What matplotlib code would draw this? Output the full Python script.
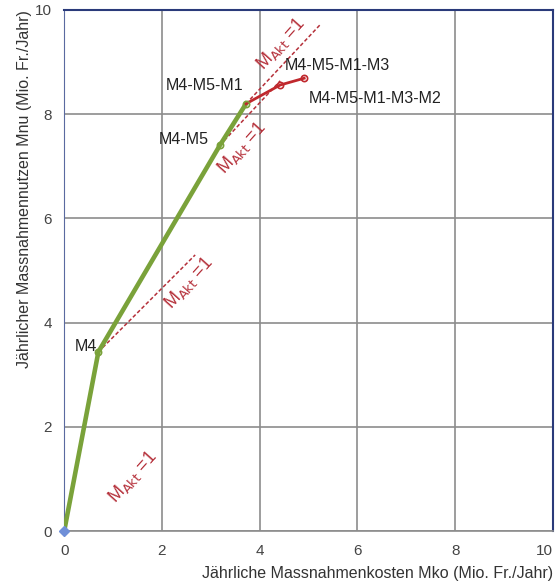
import numpy as np
import matplotlib.pyplot as plt

plt.rcParams['font.family'] = ['Liberation Sans', 'DejaVu Sans']

# cumulative measure combinations (cost, benefit) in Mio. Fr./Jahr
labels = ['', 'M4', 'M4-M5', 'M4-M5-M1', 'M4-M5-M1-M3', 'M4-M5-M1-M3-M2']
cost = [0.0, 0.70, 3.19, 3.72, 4.42, 4.91]
benefit = [0.0, 3.44, 7.41, 8.20, 8.56, 8.69]

# M_Akt = 1 reference lines (start, end)
akt_x = [(0.70, 2.68), (3.19, 4.42), (3.72, 5.23)]
akt_y = [(3.44, 5.30), (7.41, 8.64), (8.20, 9.71)]

# M_Akt label positions
akt_lbl_x = [1.41, 2.54, 3.64, 4.42]
akt_lbl_y = [1.04, 4.76, 7.35, 9.35]

green = '#7aa23a'
red = '#c0282d'
dred = '#b5303a'

fig = plt.figure(figsize=(5.58, 5.85), dpi=100)
ax = fig.add_axes([0.115, 0.092, 0.876, 0.891])

for (x0, x1), (y0, y1) in zip(akt_x, akt_y):
    ax.plot([x0, x1], [y0, y1], color=dred, linestyle=(0, (2.5, 1.5)), linewidth=1.1, zorder=3)

ax.plot(cost[:4], benefit[:4], color=green, linewidth=3.3, zorder=4)
ax.plot(cost[3:], benefit[3:], color=red, linewidth=2, zorder=4)
ax.plot(cost[1:4], benefit[1:4], 'o', ms=4.5, mfc='none', mec=green, mew=1.2, zorder=5)
ax.plot(cost[4:], benefit[4:], 'o', ms=4.5, mfc='none', mec=red, mew=1.2, zorder=5)
ax.plot(cost[0], benefit[0], 'D', ms=5, color='#6f8fd8', zorder=6, clip_on=False)

offsets = [None, (-0.25, 0.1), (-0.74, 0.1), (-0.84, 0.36), (1.16, 0.37), (1.45, -0.38)]
for i in range(1, len(labels)):
    dx, dy = offsets[i]
    ax.text(cost[i] + dx, benefit[i] + dy, labels[i], fontsize=11.5, color='#222222',
            ha='center', va='center', zorder=7)

for x, y in zip(akt_lbl_x, akt_lbl_y):
    ax.text(x, y, r'M$_{\mathrm{Akt}}$ =1', color=dred, fontsize=13, rotation=48,
            ha='center', va='center', zorder=7)

ax.set_xlim(0, 10)
ax.set_ylim(0, 10)
ax.set_xticks(np.arange(0, 11, 2))
ax.set_yticks(np.arange(0, 11, 2))
ax.grid(True, color='#8c8c8c', linewidth=1.2)
ax.set_axisbelow(True)
ax.tick_params(length=0, labelsize=11, colors='#444444', pad=9)
ax.get_xticklabels()[-1].set_horizontalalignment('right')
for s in ['top', 'right']:
    ax.spines[s].set_color('#2a3a7a')
    ax.spines[s].set_linewidth(1.5)
ax.spines['left'].set_color('#5a6aa0')
ax.spines['bottom'].set_color('#8c8c8c')
ax.spines['bottom'].set_linewidth(1.2)

ax.set_xlabel('Jährliche Massnahmenkosten Mko (Mio. Fr./Jahr)', fontsize=11.5, color='#333333',
              loc='right', labelpad=6)
ax.set_ylabel('Jährlicher Massnahmennutzen Mnu (Mio. Fr./Jahr)', fontsize=11.5, color='#333333',
              loc='top', labelpad=2)

fig.savefig('out.png', dpi=100)
